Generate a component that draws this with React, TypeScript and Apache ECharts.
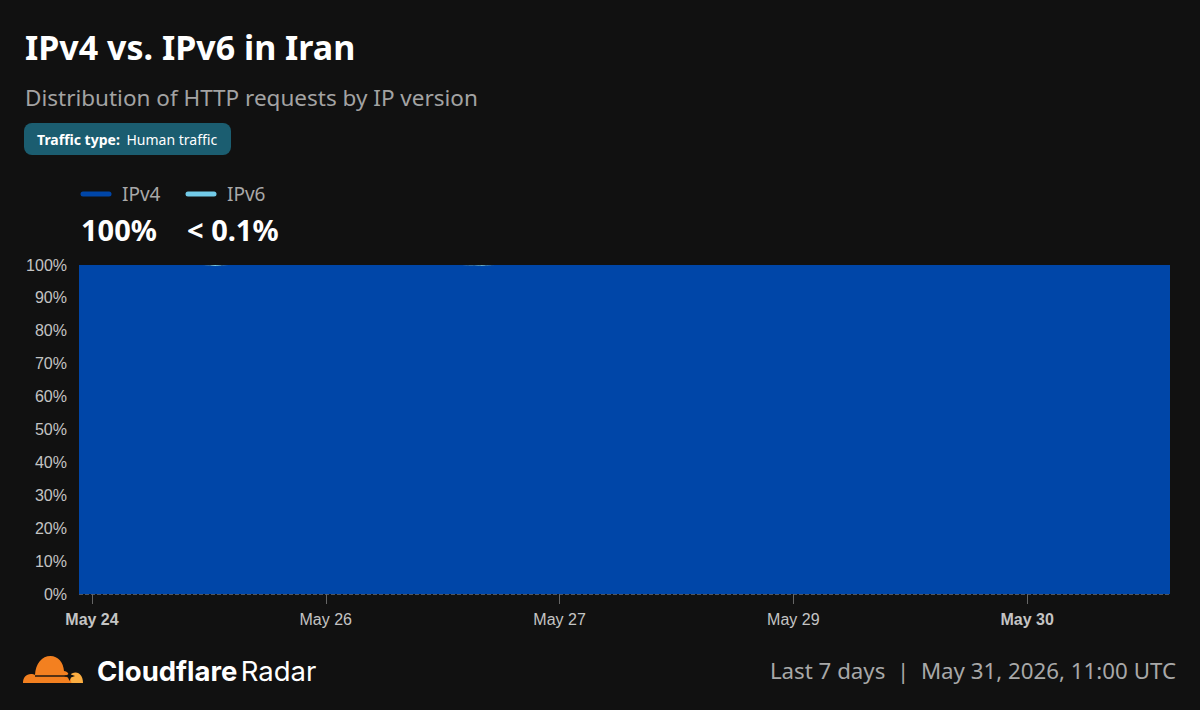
import React, { useEffect, useRef } from 'react';
import * as echarts from 'echarts';

// hourly samples, May 24 10:00 UTC .. May 31 10:00 UTC
const startHour = Date.UTC(2026, 4, 24, 10);
const ipv6Share = [
  0.02, 0.02, 0.01, 0.02, 0.02, 0.01, 0.02, 0.02, 0.02, 0.01, 0.02, 0.03, 0.02, 0.02, 0.02, 0.01, 0.02, 0.02, 0.02, 0.03, 0.05, 0.3, 0.04, 0.02,
  0.02, 0.01, 0.02, 0.02, 0.02, 0.01, 0.01, 0.02, 0.02, 0.02, 0.01, 0.02, 0.02, 0.03, 0.02, 0.02, 0.01, 0.02, 0.02, 0.02, 0.01, 0.02, 0.02, 0.02,
  0.01, 0.02, 0.02, 0.02, 0.03, 0.02, 0.02, 0.01, 0.02, 0.02, 0.02, 0.03, 0.04, 0.08, 0.25, 0.06, 0.02, 0.02, 0.01, 0.02, 0.02, 0.02, 0.01, 0.02,
  0.02, 0.02, 0.01, 0.02, 0.02, 0.02, 0.01, 0.02, 0.02, 0.01, 0.02, 0.02, 0.02, 0.02, 0.01, 0.02, 0.02, 0.02, 0.01, 0.02, 0.02, 0.02, 0.01, 0.02,
  0.01, 0.02, 0.02, 0.01, 0.02, 0.02, 0.02, 0.01, 0.02, 0.02, 0.01, 0.02, 0.02, 0.02, 0.01, 0.02, 0.02, 0.01, 0.02, 0.02, 0.02, 0.01, 0.02, 0.02,
  0.02, 0.01, 0.02, 0.02, 0.01, 0.02, 0.02, 0.02, 0.01, 0.02, 0.02, 0.01, 0.02, 0.02, 0.02, 0.01, 0.02, 0.02, 0.01, 0.02, 0.02, 0.02, 0.01, 0.02,
  0.02, 0.02, 0.01, 0.02, 0.02, 0.01, 0.02, 0.02, 0.02, 0.01, 0.02, 0.02, 0.01, 0.02, 0.02, 0.02, 0.01, 0.02, 0.02, 0.01, 0.02, 0.02, 0.02, 0.01,
  0.02,
];
const ipv4Share = ipv6Share.map((v) => +(100 - v).toFixed(2));

// x-axis ticks: index into the hourly series and its label
const tickIndex = [2, 38, 74, 110, 146];
const tickLabels = ['May 24', 'May 26', 'May 27', 'May 29', 'May 30'];
const boldTicks = ['May 24', 'May 30'];

const yTicks = [0, 10, 20, 30, 40, 50, 60, 70, 80, 90, 100];

const legendNames = ['IPv4', 'IPv6'];
const legendValues = ['100%', '< 0.1%'];
const colors = ['#0046a8', '#72cbe8'];

const cloudBig =
  'M0 28 C0 22.5 3 19 8 19 C9.5 19 11 19.4 12 20 C12.5 8.5 19 1 27.5 1 C35 1 40.5 7.5 41 16 C44.5 16.5 47 19.5 47.5 24 L48.5 28 Z';
const cloudSmall = 'M44 28 C44.5 21.5 48 17.5 52.5 17.5 C57 17.5 60 22 60 28 Z';

export default function App() {
  const chartRef = useRef<HTMLDivElement>(null);

  useEffect(() => {
    if (!chartRef.current) return;
    echarts.graphic.registerShape('cloudBig', echarts.graphic.extendPath(cloudBig, {}));
    echarts.graphic.registerShape('cloudSmall', echarts.graphic.extendPath(cloudSmall, {}));

    const chart = echarts.init(chartRef.current, null, { renderer: 'svg' });

    const hours = ipv6Share.map((_, i) => {
      const d = new Date(startHour + i * 3600000);
      return d.toISOString().slice(0, 13) + ':00';
    });
    const showTick = (i: number) => tickIndex.indexOf(i) >= 0;

    const option = {
      animation: false,
      backgroundColor: '#111111',
      grid: { left: 79, right: 30, top: 265, bottom: 116, containLabel: false },
      xAxis: {
        type: 'category',
        data: hours,
        boundaryGap: false,
        axisLine: { show: false },
        axisTick: { show: true, interval: showTick, length: 10, lineStyle: { color: '#666' } },
        axisLabel: {
          interval: showTick,
          margin: 17,
          formatter: (_v: string, i: number) => {
            const label = tickLabels[tickIndex.indexOf(i)] || '';
            return boldTicks.indexOf(label) >= 0 ? '{b|' + label + '}' : '{n|' + label + '}';
          },
          rich: {
            b: { fontFamily: 'Liberation Sans', fontSize: 16, fontWeight: 'bold', color: '#c4c4c4' },
            n: { fontFamily: 'Liberation Sans', fontSize: 16, color: '#c4c4c4' },
          },
        },
        splitLine: { show: false },
      },
      yAxis: {
        type: 'value',
        min: yTicks[0],
        max: yTicks[yTicks.length - 1],
        interval: 10,
        axisLabel: {
          formatter: '{value}%',
          fontFamily: 'Liberation Sans',
          fontSize: 16,
          color: '#c4c4c4',
          margin: 12,
        },
        splitLine: { show: true, lineStyle: { color: '#4f5560', type: 'dashed', width: 1 } },
      },
      series: legendNames.map((name, k) => ({
        name,
        type: 'line',
        stack: 'share',
        data: k === 0 ? ipv4Share : ipv6Share,
        showSymbol: false,
        symbol: 'none',
        lineStyle: { width: 0 },
        areaStyle: { color: colors[k], opacity: 1 },
      })),
      graphic: [
        {
          type: 'text',
          x: 25,
          y: 47,
          style: { text: 'IPv4 vs. IPv6 in Iran', font: 'bold 34px "Noto Sans"', fill: '#ffffff', verticalAlign: 'middle' },
        },
        {
          type: 'text',
          x: 25,
          y: 97,
          style: { text: 'Distribution of HTTP requests by IP version', font: '22.5px "Noto Sans"', fill: '#a3a3a3', verticalAlign: 'middle' },
        },
        {
          type: 'rect',
          shape: { x: 24, y: 123, width: 207, height: 32, r: 8 },
          style: { fill: '#1b5d70' },
        },
        {
          type: 'text',
          x: 37,
          y: 139,
          style: {
            text: '{b|Traffic type:}  {n|Human traffic}',
            verticalAlign: 'middle',
            rich: {
              b: { font: 'bold 14px "Noto Sans"', fill: '#ffffff' },
              n: { font: '14px "Noto Sans"', fill: '#ffffff' },
            },
          },
        },
        ...legendNames.flatMap((name, k) => {
          const x0 = [81, 186][k];
          return [
            {
              type: 'line',
              shape: { x1: x0 + 2, y1: 194, x2: x0 + 28, y2: 194 },
              style: { stroke: colors[k], lineWidth: 5, lineCap: 'round' },
            },
            {
              type: 'text',
              x: x0 + 41,
              y: 194,
              style: { text: name, font: '19px "Noto Sans"', fill: '#a8a8a8', verticalAlign: 'middle' },
            },
            {
              type: 'text',
              x: x0 + (k === 1 ? 1 : 0),
              y: 229,
              style: { text: legendValues[k], font: 'bold 29px "Noto Sans"', fill: '#ffffff', verticalAlign: 'middle' },
            },
          ];
        }),
        { type: 'cloudSmall', x: 23, y: 655, style: { fill: '#fbad41' } },
        { type: 'cloudBig', x: 23, y: 655, style: { fill: '#f38020' } },
        {
          type: 'line',
          shape: { x1: 35, y1: 676, x2: 66, y2: 676 },
          style: { stroke: '#111111', lineWidth: 1.4 },
        },
        {
          type: 'polygon',
          shape: { points: [[64, 676], [68, 674.5], [69.5, 671], [71, 674.5], [75, 676], [71, 677.5], [69.5, 681], [68, 677.5]] },
          style: { fill: '#111111' },
        },
        {
          type: 'text',
          x: 97,
          y: 671,
          style: {
            text: '{b|Cloudflare} {n|Radar}',
            verticalAlign: 'middle',
            rich: {
              b: { font: 'bold 27.5px Inter', fill: '#ffffff' },
              n: { font: '27.5px Inter', fill: '#ffffff' },
            },
          },
        },
        {
          type: 'text',
          x: 1176,
          y: 670,
          style: {
            text: 'Last 7 days  |  May 31, 2026, 11:00 UTC',
            font: '22.3px "Noto Sans"',
            fill: '#a8a8a8',
            align: 'right',
            verticalAlign: 'middle',
          },
        },
      ],
    };

    chart.setOption(option);
    return () => chart.dispose();
  }, []);

  return (
    <div style={{ position: 'fixed', left: 0, top: 0, width: 1200, height: 710, background: '#111111' }}>
      <div ref={chartRef} style={{ width: '1200px', height: '710px' }} />
    </div>
  );
}
